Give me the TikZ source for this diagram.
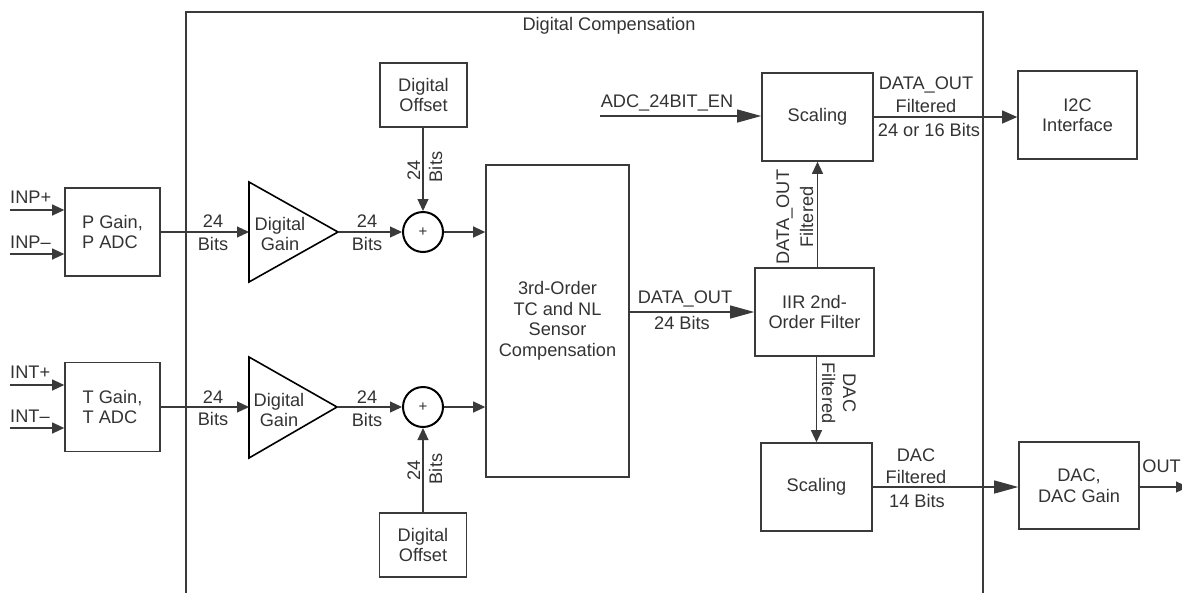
\documentclass[tikz,border=0pt]{standalone}
\usepackage{fontspec}
\setmainfont{Liberation Sans}
\usetikzlibrary{arrows.meta}
\definecolor{ln}{RGB}{58,58,58}
\definecolor{tx}{RGB}{51,51,51}
\newcommand\myfs{\fontsize{18.2}{20.5}\selectfont}
\tikzset{
  box/.style={draw=ln, line width=1.6pt, inner sep=0pt, align=center, text=tx, font=\myfs},
  lbl/.style={inner sep=0pt, text=tx, font=\myfs},
  conn/.style={draw=ln, line width=1.1pt},
  arrS/.style={conn, -{Triangle[length=12pt,width=11pt]}},
  arrM/.style={conn, -{Triangle[length=15pt,width=13pt]}},
  arrL/.style={conn, -{Triangle[length=24pt,width=13pt]}},
  tri/.style={draw=black, line width=1.6pt, line join=miter},
  sumc/.style={circle, draw=black, line width=2pt, minimum size=40pt, inner sep=0pt, text=tx, font=\fontsize{15}{15}\selectfont},
  frame/.style={draw=ln, line width=1.6pt}
}
\begin{document}
\begin{tikzpicture}[x=1pt,y=-1pt]
\useasboundingbox (0,0) rectangle (1182,592);
\clip (0,0) rectangle (1182,592);
% outer frame
\draw[frame] (186,12) rectangle (983,620);
\node[lbl, anchor=base] (title) at (609,30) {Digital Compensation};

% blocks
\node[box, minimum width=95pt, minimum height=88pt, align=left] (pg) at (112.5,232) {P Gain,\\P ADC};
\node[box, minimum width=95pt, minimum height=89pt, align=left] (tg) at (112.5,407) {T Gain,\\T ADC};
\node[box, minimum width=87pt, minimum height=64pt] (ot) at (423.5,95) {Digital\\Offset};
\node[box, minimum width=87pt, minimum height=64pt] (ob) at (423,545) {Digital\\Offset};
\node[box, minimum width=143pt, minimum height=312pt] (comp) at (557.5,321) {3rd-Order\\TC and NL\\Sensor\\Compensation};
\node[box, minimum width=119pt, minimum height=88pt] (iir) at (814.5,312) {IIR 2nd-\\Order Filter};
\node[box, minimum width=111pt, minimum height=88pt] (st) at (817.5,117) {Scaling};
\node[box, minimum width=111pt, minimum height=88pt] (sb) at (816.5,487) {Scaling};
\node[box, minimum width=119pt, minimum height=88pt] (i2c) at (1077.5,115) {I2C\\Interface};
\node[box, minimum width=120pt, minimum height=87pt] (dac) at (1079,485.5) {DAC,\\DAC Gain};

% gain triangles
\draw[tri] (249,182) -- (249,282) -- (338,232) -- cycle;
\coordinate (g1in) at (249,232);
\coordinate (g1out) at (338,232);
\node[lbl, align=center] (g1) at (280,234) {Digital\\Gain};
\draw[tri] (249,357) -- (249,458) -- (337,407) -- cycle;
\coordinate (g2in) at (249,407);
\coordinate (g2out) at (337,407);
\node[lbl, align=center] (g2) at (279,410) {Digital\\Gain};

% summing junctions
\node[sumc] (s1) at (423,232) {+};
\node[sumc] (s2) at (423,407) {+};

% inputs
\coordinate (inp1) at (10,210);
\coordinate (inp2) at (10,254);
\coordinate (int1) at (10,385);
\coordinate (int2) at (10,428);
\draw[arrS] (inp1) -- (inp1 -| pg.west);
\draw[arrS] (inp2) -- (inp2 -| pg.west);
\draw[arrS] (int1) -- (int1 -| tg.west);
\draw[arrS] (int2) -- (int2 -| tg.west);
\node[lbl, anchor=base west] (linp1) at (10,203) {INP+};
\node[lbl, anchor=base west] (linp2) at (10,248) {INP–};
\node[lbl, anchor=base west] (lint1) at (10,378) {INT+};
\node[lbl, anchor=base west] (lint2) at (10,422) {INT–};

% upper chain
\draw[arrS] (pg.east) -- (g1in);
\draw[arrS] (g1out) -- (s1.west);
\draw[arrS] (s1.east) -- (s1.east -| comp.west);
\draw[arrS] (s1.north |- ot.south) -- (s1.north);
\node[lbl, anchor=base] (a24) at (213,227) {24};
\node[lbl, anchor=base] (abits) at (213,250) {Bits};
\node[lbl, anchor=base] (b24) at (367,227) {24};
\node[lbl, anchor=base] (bbits) at (367,250) {Bits};
\node[lbl, anchor=base, rotate=90] (c24) at (420,170) {24};
\node[lbl, anchor=base, rotate=90] (cbits) at (442,167) {Bits};

% lower chain
\draw[arrS] (tg.east) -- (g2in);
\draw[arrS] (g2out) -- (s2.west);
\draw[arrS] (s2.east) -- (s2.east -| comp.west);
\draw[arrS] (s2.south |- ob.north) -- (s2.south);
\node[lbl, anchor=base] (d24) at (213,403) {24};
\node[lbl, anchor=base] (dbits) at (213,425) {Bits};
\node[lbl, anchor=base] (e24) at (367,403) {24};
\node[lbl, anchor=base] (ebits) at (367,426) {Bits};
\node[lbl, anchor=base, rotate=90] (f24) at (420,470) {24};
\node[lbl, anchor=base, rotate=90] (fbits) at (442,469) {Bits};

% compensation to IIR
\draw[arrL] (iir.west -| comp.east) -- (iir.west);
\node[lbl, anchor=base] (ldo) at (685,303) {DATA\_OUT};
\node[lbl, anchor=base] (ldo24) at (682,329) {24 Bits};

% IIR up to scaling
\draw[arrS] (iir.north -| st.south) -- (st.south);
\node[lbl, anchor=base, rotate=90] (lupdo) at (789,217) {DATA\_OUT};
\node[lbl, anchor=base, rotate=90] (lupf) at (813,217) {Filtered};

% ADC_24BIT_EN
\coordinate (adc) at (600,116);
\draw[arrL] (adc) -- (adc -| st.west);
\node[lbl, anchor=base] (ladc) at (667,107) {ADC\_24BIT\_EN};

% scaling to I2C
\draw[arrM] (st.east) -- (i2c.west |- st.east);
\node[lbl, anchor=base] (li1) at (926,89) {DATA\_OUT};
\node[lbl, anchor=base] (li2) at (926,112) {Filtered};
\node[lbl, anchor=base] (li3) at (929,136) {24 or 16 Bits};

% IIR down to scaling
\draw[arrS] (iir.south -| sb.north) -- (sb.north);
\node[lbl, anchor=base, rotate=-90] (ldnf) at (822,393) {Filtered};
\node[lbl, anchor=base, rotate=-90] (ldnd) at (843,393) {DAC};

% scaling to DAC
\draw[arrL] (sb.east) -- (sb.east -| dac.west);
\node[lbl, anchor=base] (lda1) at (916,461) {DAC};
\node[lbl, anchor=base] (lda2) at (916,483) {Filtered};
\node[lbl, anchor=base] (lda3) at (917,507) {14 Bits};

% output
\coordinate (outend) at (1188,487);
\draw[arrS] (dac.east |- outend) -- (outend);
\node[lbl, anchor=base east] (lout) at (1181,472) {OUT};
\end{tikzpicture}
\end{document}
